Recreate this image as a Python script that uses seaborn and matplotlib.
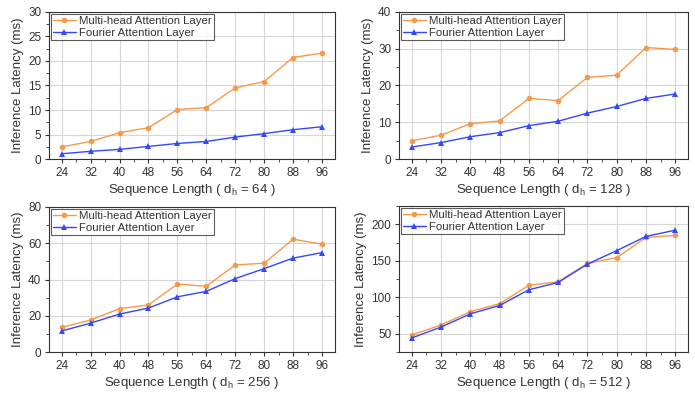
import matplotlib
matplotlib.use('Agg')
import matplotlib.pyplot as plt
import pandas as pd
import seaborn as sns
from matplotlib.ticker import MultipleLocator, AutoMinorLocator

# sequence lengths on the x axis
seq_len = [24, 32, 40, 48, 56, 64, 72, 80, 88, 96]

# latency (ms), one pair per head dimension
mha_64 = [2.5, 3.6, 5.4, 6.4, 10.1, 10.5, 14.5, 15.8, 20.7, 21.6]
fno_64 = [1.1, 1.6, 2.0, 2.6, 3.2, 3.6, 4.5, 5.2, 6.0, 6.6]

mha_128 = [5.0, 6.5, 9.6, 10.4, 16.5, 15.9, 22.2, 22.8, 30.3, 29.8]
fno_128 = [3.3, 4.5, 6.1, 7.2, 9.1, 10.3, 12.5, 14.3, 16.5, 17.7]

mha_256 = [13.7, 17.7, 24.0, 26.0, 37.5, 36.3, 48.0, 49.0, 62.2, 59.5]
fno_256 = [11.7, 16.0, 21.0, 24.3, 30.5, 33.5, 40.5, 46.0, 51.8, 54.8]

mha_512 = [48.5, 62.5, 80.5, 91.5, 116.5, 121.5, 146.5, 154.5, 182.0, 185.0]
fno_512 = [44.5, 59.5, 77.5, 89.0, 110.5, 120.5, 145.5, 164.0, 183.5, 192.0]

series_names = ['Multi-head Attention Layer', 'Fourier Attention Layer']
head_dims = [64, 128, 256, 512]

sns.set_style('ticks')
plt.rcParams['font.family'] = ['Liberation Sans', 'DejaVu Sans']
plt.rcParams['mathtext.fontset'] = 'custom'
plt.rcParams['mathtext.rm'] = 'Liberation Sans'
plt.rcParams['mathtext.it'] = 'Liberation Sans'

fig = plt.figure(figsize=(6.95, 3.94), dpi=100)

# axes boxes in figure fractions
boxes = [
    [0.0705, 0.596, 0.411, 0.374],
    [0.574, 0.596, 0.416, 0.374],
    [0.0705, 0.106, 0.411, 0.369],
    [0.574, 0.106, 0.416, 0.371],
]
ylims = [(0, 30), (0, 40), (0, 80), (25, 225)]
ysteps = [5, 10, 20, 50]
data = [(mha_64, fno_64), (mha_128, fno_128), (mha_256, fno_256), (mha_512, fno_512)]

palette = {series_names[0]: '#F7994A', series_names[1]: '#3347FF'}
markers = {series_names[0]: 'o', series_names[1]: '^'}

for box, dh, (mha, fno), ylim, ystep in zip(boxes, head_dims, data, ylims, ysteps):
    ax = fig.add_axes(box)
    df = pd.DataFrame({
        'seq': seq_len * 2,
        'latency': mha + fno,
        'layer': [series_names[0]] * len(seq_len) + [series_names[1]] * len(seq_len),
    })
    sns.lineplot(data=df, x='seq', y='latency', hue='layer', style='layer',
                 palette=palette, markers=markers, dashes=False,
                 linewidth=1.0, markersize=4, markeredgewidth=0, ax=ax)

    ax.set_xlim(20.5, 99.5)
    ax.set_ylim(*ylim)
    ax.set_xticks(seq_len)
    ax.xaxis.set_minor_locator(AutoMinorLocator(2))
    ax.yaxis.set_major_locator(MultipleLocator(ystep))
    ax.yaxis.set_minor_locator(AutoMinorLocator(2))
    ax.grid(True, which='major', color='#d6d6d6', linewidth=0.8)
    ax.set_axisbelow(True)
    for s in ax.spines.values():
        s.set_visible(True)
        s.set_color('#333333')
        s.set_linewidth(0.8)
    ax.tick_params(which='major', direction='out', length=3, width=0.8,
                   labelsize=8.5, colors='#333333', pad=2.5)
    ax.tick_params(which='minor', direction='out', length=2, width=0.6, colors='#333333')
    ax.tick_params(axis='both', labelcolor='#333333')

    ax.set_xlabel(r'Sequence Length ( d$_{\mathregular{h}}$ = %d )' % dh,
                  fontsize=9.5, color='#333333', labelpad=2)
    ax.set_ylabel('Inference Latency (ms)', fontsize=9.5, color='#333333', labelpad=3)

    leg = ax.legend(loc='upper left', fontsize=8.2, frameon=True, fancybox=False,
                    borderaxespad=0.15, handlelength=2.0, handletextpad=0.3,
                    borderpad=0.2, labelspacing=0.15, title=None)
    leg.get_frame().set_edgecolor('#333333')
    leg.get_frame().set_linewidth(0.8)
    for t in leg.get_texts():
        t.set_color('#333333')

fig.savefig('out.png', dpi=100)
